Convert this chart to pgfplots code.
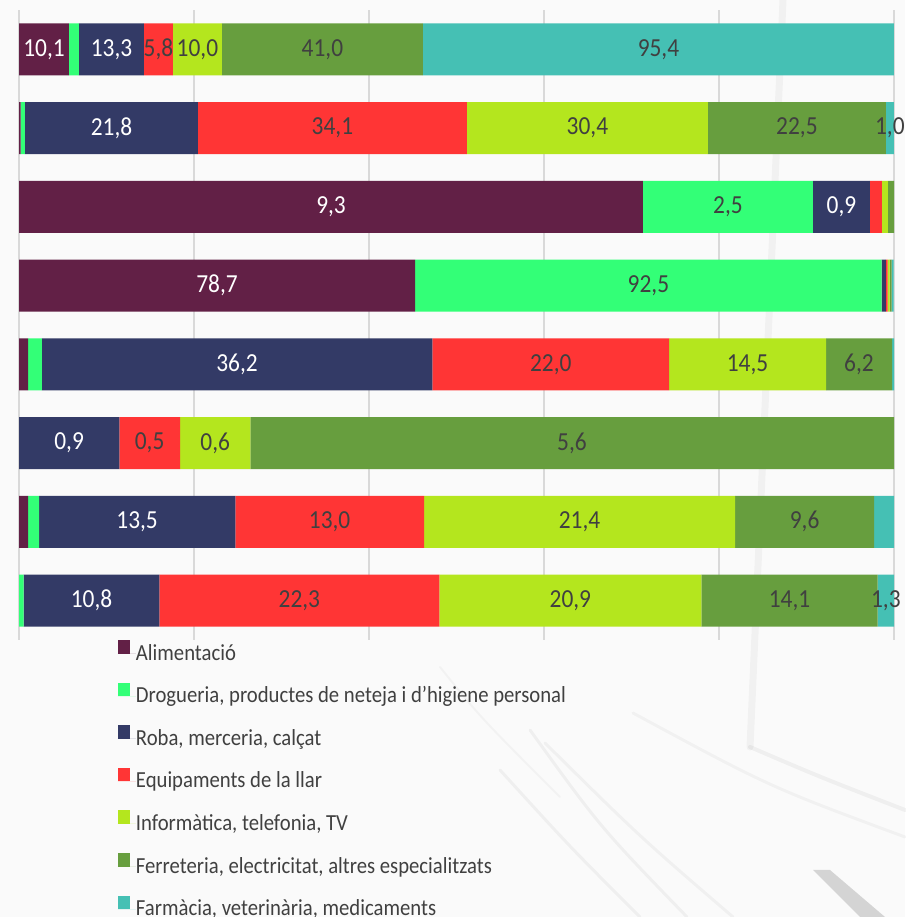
\documentclass[border=0pt]{standalone}
\usepackage{fontspec}
\setmainfont{Carlito}[FakeStretch=0.9]
\usepackage{pgfplots}
\pgfplotsset{compat=1.18}
\definecolor{alim}{HTML}{622046}
\definecolor{drog}{HTML}{33FF77}
\definecolor{roba}{HTML}{333A66}
\definecolor{equip}{HTML}{FF3535}
\definecolor{inform}{HTML}{B4E61E}
\definecolor{ferret}{HTML}{679E3E}
\definecolor{farm}{HTML}{45C0B4}
\definecolor{txtgray}{HTML}{404040}
\definecolor{gridgray}{HTML}{D9D9D9}
\begin{document}
\begin{tikzpicture}
\useasboundingbox (0pt,0pt) rectangle (905pt,917pt);
\fill[white!98!black] (0pt,0pt) rectangle (905pt,917pt);
% faint photographic background streaks
\begin{scope}[line cap=round]
\draw[black, opacity=0.035, line width=7pt] (783pt,917pt) -- (750pt,170pt);
\draw[black, opacity=0.045, line width=4pt] (750pt,170pt) .. controls (820pt,140pt) .. (905pt,107pt);
\draw[black, opacity=0.045, line width=3pt] (530pt,187pt) .. controls (600pt,90pt) .. (687pt,0pt);
\draw[black, opacity=0.045, line width=3pt] (500pt,147pt) .. controls (570pt,70pt) .. (640pt,0pt);
\draw[black, opacity=0.04, line width=3pt] (545pt,174pt) .. controls (640pt,80pt) .. (733pt,0pt);
\draw[black, opacity=0.035, line width=3pt] (633pt,204pt) .. controls (770pt,130pt) .. (905pt,80pt);
\draw[black, opacity=0.03, line width=2pt] (440pt,250pt) .. controls (480pt,200pt) .. (560pt,120pt);
\fill[black, opacity=0.15] (813pt,47pt) -- (830pt,47pt) -- (885pt,0pt) -- (860pt,0pt) -- cycle;
\end{scope}
\begin{axis}[
  at={(19pt,277pt)}, anchor=south west,
  width=875pt, height=630pt, scale only axis,
  xbar stacked, bar width=52pt,
  xmin=0, xmax=100, ymin=0.5, ymax=8.5,
  axis line style={draw=none},
  xtick={0,20,40,60,80,100}, xticklabels={},
  ytick=\empty,
  major tick length=0pt,
  xmajorgrids, grid style={draw=gridgray, line width=1.3pt},
  clip=false,
  legend cell align=left,
  legend style={at={(0.1131,0)}, anchor=north west, draw=none, fill=none,
    inner sep=0pt, outer sep=0pt, row sep=17.6pt,
    font=\fontsize{23}{27}\selectfont,
    nodes={inner sep=0pt, text height=18pt, text depth=5pt, text=txtgray}},
  legend image code/.code={\path (0pt,0pt) -- (18pt,0pt); \fill[#1] (0pt,0pt) rectangle (12pt,13.5pt);},
]
\addplot[fill=alim, draw=none] coordinates {(5.71,8) (0.19,7) (71.31,6) (45.26,5) (1.03,4) (0,3) (1.03,2) (0,1)};
\addlegendentry{Alimentació}
\addplot[fill=drog, draw=none] coordinates {(1.14,8) (0.49,7) (19.43,6) (53.33,5) (1.57,4) (0,3) (1.26,2) (0.54,1)};
\addlegendentry{Drogueria, productes de neteja i d’higiene personal}
\addplot[fill=roba, draw=none] coordinates {(7.43,8) (19.77,7) (6.51,6) (0.49,5) (44.64,4) (11.46,3) (22.43,2) (15.50,1)};
\addlegendentry{Roba, merceria, calçat}
\addplot[fill=equip, draw=none] coordinates {(3.31,8) (30.74,7) (1.37,6) (0.19,5) (27.05,4) (6.94,3) (21.57,2) (32.00,1)};
\addlegendentry{Equipaments de la llar}
\addplot[fill=inform, draw=none] coordinates {(5.60,8) (27.54,7) (0.69,6) (0.23,5) (17.94,4) (8.03,3) (35.54,2) (29.94,1)};
\addlegendentry{Informàtica, telefonia, TV}
\addplot[fill=ferret, draw=none] coordinates {(22.97,8) (20.34,7) (0.69,6) (0.23,5) (7.54,4) (73.57,3) (15.89,2) (20.16,1)};
\addlegendentry{Ferreteria, electricitat, altres especialitzats}
\addplot[fill=farm, draw=none] coordinates {(53.83,8) (0.91,7) (0,6) (0.23,5) (0.23,4) (0,3) (2.29,2) (1.86,1)};
\addlegendentry{Farmàcia, veterinària, medicaments}
\end{axis}
\begin{axis}[
  at={(19pt,277pt)}, anchor=south west,
  width=875pt, height=630pt, scale only axis,
  xmin=0, xmax=100, ymin=0.5, ymax=8.5,
  hide axis, clip=false,
]
\addplot[draw=none, mark=none, nodes near coords, point meta=explicit symbolic,
  every node near coord/.append style={text=white, anchor=center, inner sep=0pt, font=\fontsize{26}{30}\selectfont}]
  coordinates {(2.86,8) [10,1] (10.57,8) [13,3] (10.57,7) [21,8] (35.66,6) [9,3] (94.0,6) [0,9]
  (22.63,5) [78,7] (24.92,4) [36,2] (5.73,3) [0,9] (13.5,2) [13,5] (8.29,1) [10,8]};
\addplot[draw=none, mark=none, nodes near coords, point meta=explicit symbolic,
  every node near coord/.append style={text=txtgray, anchor=center, inner sep=0pt, font=\fontsize{26}{30}\selectfont}]
  coordinates {(15.94,8) [5,8] (20.39,8) [10,0] (34.68,8) [41,0] (73.08,8) [95,4]
  (35.82,7) [34,1] (64.96,7) [30,4] (88.9,7) [22,5] (99.53,7) [1,0]
  (81.03,6) [2,5]
  (71.93,5) [92,5]
  (60.77,4) [22,0] (83.26,4) [14,5] (96.0,4) [6,2]
  (14.93,3) [0,5] (22.42,3) [0,6] (63.2,3) [5,6]
  (35.5,2) [13,0] (64.06,2) [21,4] (89.78,2) [9,6]
  (32.04,1) [22,3] (63.01,1) [20,9] (88.06,1) [14,1] (99.07,1) [1,3]};
\end{axis}
\end{tikzpicture}
\end{document}
